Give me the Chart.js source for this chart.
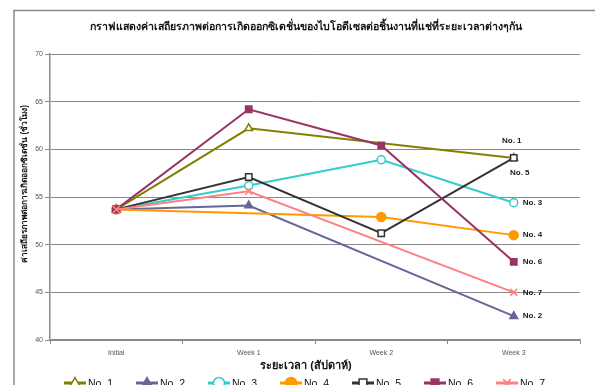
<!DOCTYPE html>
<html>
<head>
<meta charset="utf-8">
<script src="https://cdn.jsdelivr.net/npm/chart.js@4.4.1/dist/chart.umd.min.js"></script>
<style>
  html, body { margin: 0; padding: 0; background: #fff; overflow: hidden; }
  canvas { display: block; }
</style>
</head>
<body>
<canvas id="c" width="595" height="385"></canvas>
<script>
// Oxidation stability (hours) of biodiesel per specimen over immersion time
const categories = ['Initial', 'Week 1', 'Week 2', 'Week 3'];
const no1 = [53.7, 62.2, null, 59.1];
const no2 = [53.7, 54.1, null, 42.5];
const no3 = [53.7, 56.2, 58.9, 54.4];
const no4 = [53.7, null, 52.9, 51.0];
const no5 = [53.7, 57.1, 51.2, 59.1];
const no6 = [53.7, 64.2, 60.4, 48.2];
const no7 = [53.7, 55.6, null, 45.0];
const seriesNames = ['No. 1', 'No. 2', 'No. 3', 'No. 4', 'No. 5', 'No. 6', 'No. 7'];
const yTicks = [40, 45, 50, 55, 60, 65, 70];

const chartTitle = 'กราฟแสดงค่าเสถียรภาพต่อการเกิดออกซิเดชั่นของไบโอดีเซลต่อชิ้นงานที่แช่ที่ระยะเวลาต่างๆกัน';
const yTitle = 'ค่าเสถียรภาพต่อการเกิดออกซิเดชั่น (ชั่วโมง)';
const xTitle = 'ระยะเวลา (สัปดาห์)';

const FONT = '"Liberation Sans", Arial, sans-serif';

const styles = [
  { color: '#808000', style: 'triangle', fill: '#ffffff', r: 4.5 },
  { color: '#666699', style: 'triangle', fill: null,      r: 4.5 },
  { color: '#33CCCC', style: 'circle',   fill: '#ffffff', r: 4 },
  { color: '#FF9900', style: 'circle',   fill: null,      r: 4.5 },
  { color: '#333333', style: 'rect',     fill: '#ffffff', r: 4.5 },
  { color: '#993366', style: 'rect',     fill: null,      r: 4.5 },
  { color: '#FF8080', style: 'crossRot', fill: null,      r: 5 }
];
const seriesData = [no1, no2, no3, no4, no5, no6, no7];

const datasets = seriesData.map((d, i) => ({
  label: seriesNames[i],
  data: d,
  borderColor: styles[i].color,
  backgroundColor: styles[i].color,
  borderWidth: 2,
  pointStyle: styles[i].style,
  pointRadius: styles[i].r,
  pointHoverRadius: styles[i].r,
  pointBorderColor: styles[i].color,
  pointBackgroundColor: styles[i].fill || styles[i].color,
  pointBorderWidth: 1.5,
  spanGaps: true,
  tension: 0,
  order: 7 - i
}));

// Label offsets next to the final point of each series
const endLabelOffsets = [
  { dx: -2, dy: -17, align: 'center' },
  { dx: 9, dy: 0, align: 'left' },
  { dx: 9, dy: 0, align: 'left' },
  { dx: 9, dy: 0, align: 'left' },
  { dx: 6, dy: 15, align: 'center' },
  { dx: 9, dy: 0, align: 'left' },
  { dx: 9, dy: 0, align: 'left' }
];

function drawMarker(ctx, st, x, y, r) {
  const opts = {
    pointStyle: st.style, radius: r, rotation: 0,
    borderWidth: 1.5, borderColor: st.color,
    backgroundColor: st.fill || st.color
  };
  ctx.save();
  ctx.lineWidth = 1.5;
  ctx.strokeStyle = st.color;
  ctx.fillStyle = st.fill || st.color;
  Chart.helpers.drawPoint(ctx, opts, x, y);
  ctx.restore();
}

const decorations = {
  id: 'decorations',
  beforeDraw(chart) {
    const ctx = chart.ctx;
    ctx.save();
    ctx.fillStyle = '#ffffff';
    ctx.fillRect(0, 0, chart.width, chart.height);
    // outer chart frame
    ctx.strokeStyle = '#8a8a8a';
    ctx.lineWidth = 1.5;
    ctx.beginPath();
    ctx.moveTo(14, 400);
    ctx.lineTo(14, 10.5);
    ctx.lineTo(600, 10.5);
    ctx.stroke();
    ctx.restore();
  },
  afterDatasetsDraw(chart) {
    const ctx = chart.ctx;
    ctx.save();
    ctx.font = 'bold 8px ' + FONT;
    ctx.fillStyle = '#1a1a1a';
    ctx.textBaseline = 'middle';
    chart.data.datasets.forEach((ds, i) => {
      const meta = chart.getDatasetMeta(i);
      const pt = meta.data[categories.length - 1];
      const o = endLabelOffsets[i];
      ctx.textAlign = o.align;
      ctx.fillText(ds.label, pt.x + o.dx, pt.y + o.dy);
    });
    ctx.restore();
  },
  afterDraw(chart) {
    const ctx = chart.ctx;
    ctx.save();
    // chart title
    ctx.fillStyle = '#111';
    ctx.textAlign = 'center';
    ctx.textBaseline = 'middle';
    ctx.font = 'bold 10.6px ' + FONT;
    ctx.fillText(chartTitle, 306, 27);
    // x axis title
    ctx.font = 'bold 11px ' + FONT;
    ctx.fillText(xTitle, 306, 366);
    // y axis title
    ctx.save();
    ctx.translate(25, 184);
    ctx.rotate(-Math.PI / 2);
    ctx.font = 'bold 8.3px ' + FONT;
    ctx.fillText(yTitle, 0, 0);
    ctx.restore();
    // legend
    const ly = 383;
    ctx.font = '10.5px ' + FONT;
    ctx.textAlign = 'left';
    chart.data.datasets.forEach((ds, i) => {
      const x0 = 64 + i * 72;
      ctx.strokeStyle = styles[i].color;
      ctx.lineWidth = 3;
      ctx.beginPath();
      ctx.moveTo(x0, ly);
      ctx.lineTo(x0 + 22, ly);
      ctx.stroke();
      drawMarker(ctx, styles[i], x0 + 11, ly, 5.5);
      ctx.fillStyle = '#111';
      ctx.fillText(ds.label, x0 + 24, ly + 1);
    });
    ctx.restore();
  }
};

new Chart(document.getElementById('c'), {
  type: 'line',
  data: { labels: categories, datasets },
  options: {
    responsive: false,
    animation: false,
    devicePixelRatio: 1,
    layout: { padding: { left: 0, top: 54, right: 15, bottom: 0 } },
    plugins: {
      legend: { display: false },
      title: { display: false },
      tooltip: { enabled: false }
    },
    scales: {
      x: {
        offset: true,
        afterFit(scale) { scale.height = 45; },
        grid: {
          offset: true,
          drawOnChartArea: false,
          drawTicks: true,
          tickLength: 4,
          color: '#8a8a8a',
          lineWidth: 1
        },
        border: { display: true, color: '#8a8a8a', width: 1.5 },
        ticks: {
          font: { family: FONT, size: 7 },
          color: '#555',
          padding: 5,
          maxRotation: 0
        }
      },
      y: {
        min: 40,
        max: 70,
        afterFit(scale) { scale.width = 50; },
        afterBuildTicks(scale) { scale.ticks = yTicks.map(v => ({ value: v })); },
        grid: {
          color: '#8a8a8a',
          lineWidth: 1,
          drawTicks: true,
          tickLength: 5
        },
        border: { display: true, color: '#8a8a8a', width: 1.5 },
        ticks: {
          font: { family: FONT, size: 7 },
          color: '#555',
          padding: 2
        }
      }
    }
  },
  plugins: [decorations]
});
</script>
</body>
</html>
